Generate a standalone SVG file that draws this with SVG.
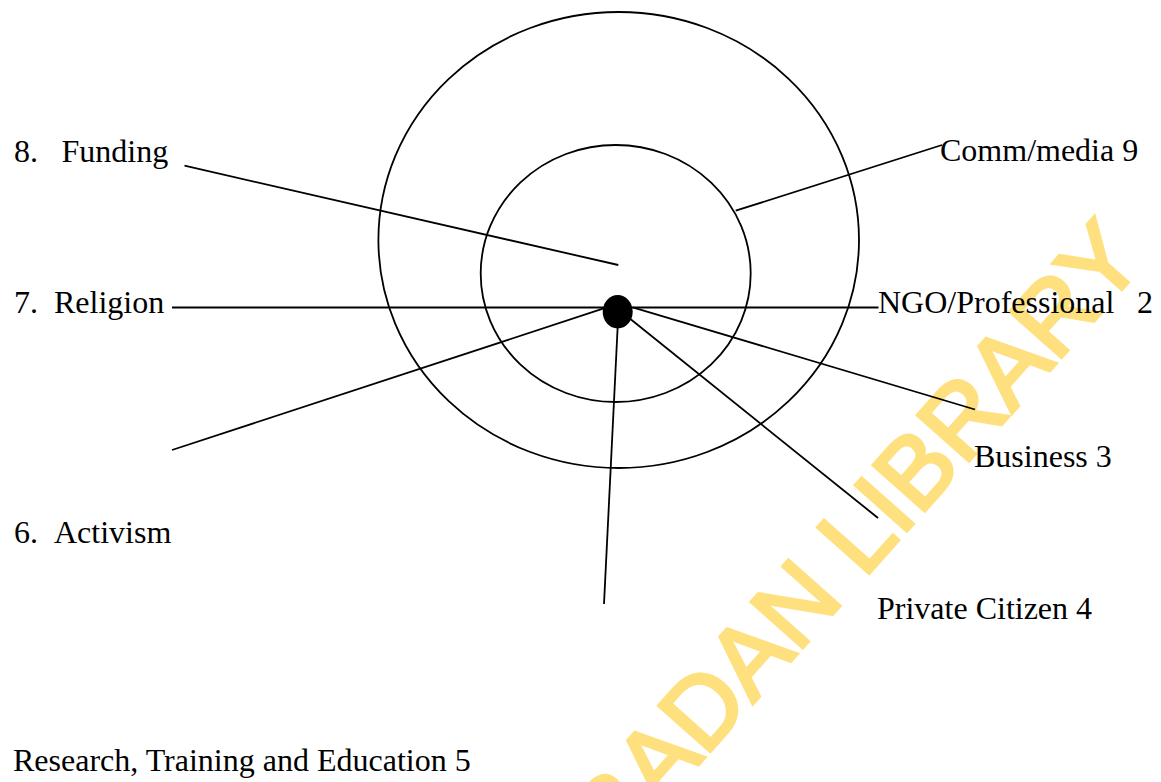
<svg xmlns="http://www.w3.org/2000/svg" width="1161" height="782" viewBox="0 0 1161 782">
  <style>
    .lbl { font-family: "Liberation Serif", "Times New Roman", serif; font-size: 32px; fill: #000; }
    .ring { fill: none; stroke: #000; stroke-width: 1.8; }
    .spoke { stroke: #000; stroke-width: 1.8; fill: none; }
    .mark { font-family: "Liberation Sans", Arial, sans-serif; font-size: 100px; fill: #FFE07F; stroke: #FFE07F; stroke-width: 3.5; }
  </style>
  <rect x="0" y="0" width="1161" height="782" fill="#fff"/>

  <!-- library stamp behind the figure -->
  <text class="mark" transform="translate(597.6,877.9) rotate(-48.3)">IBADAN LIBRARY</text>

  <!-- concentric rings -->
  <g id="outer-ring">
    <ellipse class="ring" cx="618.7" cy="240" rx="240.3" ry="228"/>
  </g>
  <g id="inner-ring">
    <ellipse class="ring" cx="615.7" cy="273.5" rx="135" ry="128.5"/>
  </g>

  <!-- spokes -->
  <g id="connectors">
    <line class="spoke" x1="184.5" y1="165.7" x2="618.3" y2="265"/>
    <line class="spoke" x1="172" y1="307.5" x2="878.5" y2="307.5"/>
    <line class="spoke" x1="172" y1="450" x2="603" y2="308.7"/>
    <line class="spoke" x1="617.7" y1="326" x2="604" y2="604"/>
    <line class="spoke" x1="630.7" y1="319.3" x2="878" y2="518"/>
    <line class="spoke" x1="632.7" y1="307.3" x2="975" y2="409.5"/>
    <line class="spoke" x1="735.7" y1="210.7" x2="942" y2="145"/>
  </g>

  <!-- hub -->
  <g id="hub">
    <ellipse cx="617.7" cy="311.7" rx="15" ry="16.7" fill="#000"/>
  </g>

  <!-- sector labels -->
  <g id="funding">
    <text class="lbl" x="14" y="162">8.</text>
    <text class="lbl" x="61.5" y="162">Funding</text>
  </g>
  <g id="religion">
    <text class="lbl" x="14" y="313">7.</text>
    <text class="lbl" x="54" y="313">Religion</text>
  </g>
  <g id="activism">
    <text class="lbl" x="14" y="543">6.</text>
    <text class="lbl" x="54" y="543">Activism</text>
  </g>
  <g id="research">
    <text class="lbl" x="13" y="771">Research, Training and Education 5</text>
  </g>
  <g id="comm-media">
    <text class="lbl" x="940" y="161">Comm/media 9</text>
  </g>
  <g id="ngo-professional">
    <text class="lbl" x="878" y="313">NGO/Professional</text>
    <text class="lbl" x="1137" y="313">2</text>
  </g>
  <g id="business">
    <text class="lbl" x="974" y="467">Business 3</text>
  </g>
  <g id="private-citizen">
    <text class="lbl" x="877" y="619">Private Citizen 4</text>
  </g>
</svg>
